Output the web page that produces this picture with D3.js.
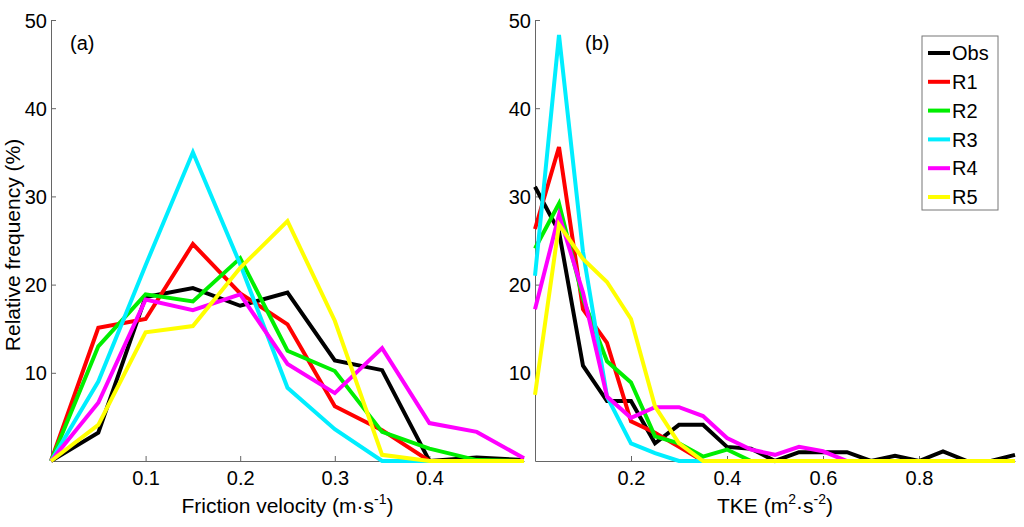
<!DOCTYPE html>
<html>
<head>
<meta charset="utf-8">
<script src="https://cdn.jsdelivr.net/npm/d3@7"></script>
<style>
  body { margin: 0; background: #fff; }
  text { font-family: "Liberation Sans", Arial, sans-serif; }
</style>
</head>
<body>
<script>
// Series names and colours
var seriesNames = ["Obs", "R1", "R2", "R3", "R4", "R5"];
var seriesColors = ["#000000", "#ff0000", "#00ee00", "#00eeff", "#ff00ff", "#ffff00"];

// Panel (a): friction velocity bins
var ustarX = [0, 0.05, 0.1, 0.15, 0.2, 0.25, 0.3, 0.35, 0.4, 0.45, 0.5];
var ustarObs = [0, 3.2, 18.6, 19.6, 17.6, 19.1, 11.4, 10.3, 0, 0.4, 0.1];
var ustarR1 = [0, 15.1, 16.1, 24.6, 19.0, 15.5, 6.2, 3.5, 0, 0, 0];
var ustarR2 = [0, 13.0, 18.9, 18.1, 23.0, 12.5, 10.2, 3.3, 1.4, 0.1, 0];
var ustarR3 = [0, 9.0, 22.2, 35.0, 22.3, 8.3, 3.6, 0, 0, 0, 0];
var ustarR4 = [0, 6.6, 18.3, 17.1, 18.9, 11.0, 7.7, 12.8, 4.3, 3.3, 0.3];
var ustarR5 = [0, 4.1, 14.6, 15.3, 21.9, 27.2, 15.9, 0.7, 0, 0, 0];

// Panel (b): TKE bins
var tkeX = [0, 0.05, 0.1, 0.15, 0.2, 0.25, 0.3, 0.35, 0.4, 0.45, 0.5,
            0.55, 0.6, 0.65, 0.7, 0.75, 0.8, 0.85, 0.9, 0.95, 1.0];
var tkeObs = [31.1, 26.0, 10.8, 6.8, 6.8, 2.0, 4.1, 4.1, 1.6, 1.4, 0,
              1.0, 1.0, 1.0, 0, 0.6, 0, 1.1, 0, 0, 0.7];
var tkeR1 = [26.3, 35.6, 17.2, 13.4, 4.5, 3.2, 1.6, 0, 0, 0, 0,
             0, 0, 0, 0, 0, 0, 0, 0, 0, 0];
var tkeR2 = [24.1, 29.2, 18.4, 11.3, 8.9, 2.8, 2.0, 0.5, 1.3, 0, 0,
             0, 0, 0, 0, 0, 0, 0, 0, 0, 0];
var tkeR3 = [21.0, 48.3, 23.7, 7.3, 2.0, 0.9, 0, 0, 0, 0, 0,
             0, 0, 0, 0, 0, 0, 0, 0, 0, 0];
var tkeR4 = [17.2, 27.9, 19.1, 7.3, 4.9, 6.1, 6.1, 5.1, 2.6, 1.3, 0.7,
             1.6, 1.1, 0, 0, 0, 0, 0, 0, 0, 0];
var tkeR5 = [7.5, 26.8, 22.9, 20.3, 16.1, 6.2, 2.0, 0, 0, 0, 0,
             0, 0, 0, 0, 0, 0, 0, 0, 0, 0];

// Tick values
var yTicks = [10, 20, 30, 40, 50];
var ustarTicks = [0.1, 0.2, 0.3, 0.4];
var tkeTicks = [0.2, 0.4, 0.6, 0.8];

var svgWidth = 1024;
var svgHeight = 527;

var svg = d3.select("body")
  .append("svg")
  .attr("width", svgWidth)
  .attr("height", svgHeight);

var plotTop = 20;
var plotBottom = 461;

var yScale = d3.scaleLinear()
  .domain([0, 50])
  .range([plotBottom, plotTop]);

function drawPanel(opts) {
  var xScale = d3.scaleLinear()
    .domain(opts.domain)
    .range(opts.range);

  var g = svg.append("g");

  // Axes with inward ticks, MATLAB style
  var leftAxis = d3.axisLeft(yScale)
    .tickValues(yTicks)
    .tickFormat(d3.format("d"))
    .tickSizeInner(-5)
    .tickSizeOuter(0)
    .tickPadding(4);

  var bottomAxis = d3.axisBottom(xScale)
    .tickValues(opts.ticks)
    .tickFormat(d3.format(".1f"))
    .tickSizeInner(-5)
    .tickSizeOuter(0)
    .tickPadding(9);

  var ya = g.append("g")
    .attr("transform", `translate(${opts.range[0]},0)`)
    .call(leftAxis);

  var xa = g.append("g")
    .attr("transform", `translate(0,${plotBottom})`)
    .call(bottomAxis);

  [ya, xa].forEach(function(a) {
    a.selectAll("path, line").attr("stroke", "#666").attr("stroke-width", 1);
    a.selectAll("text").attr("fill", "#000").style("font-size", "20px");
  });
  ya.selectAll("text").attr("dy", "0.35em");
  xa.selectAll("text").attr("dy", "0.75em");

  var line = d3.line()
    .x(function(d) { return xScale(d[0]); })
    .y(function(d) { return yScale(d[1]); });

  opts.series.forEach(function(vals, i) {
    var pts = opts.x.map(function(x, j) { return [x, vals[j]]; });
    g.append("path")
      .datum(pts)
      .attr("fill", "none")
      .attr("stroke", seriesColors[i])
      .attr("stroke-width", 4)
      .attr("stroke-linejoin", "miter")
      .attr("d", line);
  });

  // Panel tag
  g.append("text")
    .attr("x", opts.range[0] + opts.tagDx)
    .attr("y", 50)
    .style("font-size", "20px")
    .text(opts.tag);

  // x label
  var xl = g.append("text")
    .attr("x", (opts.range[0] + opts.range[1]) / 2 + opts.labelDx)
    .attr("y", 513)
    .attr("text-anchor", "middle")
    .style("font-size", "21px");
  opts.label(xl);

  return xScale;
}

drawPanel({
  domain: [0, 0.5],
  range: [51, 524],
  ticks: ustarTicks,
  x: ustarX,
  series: [ustarObs, ustarR1, ustarR2, ustarR3, ustarR4, ustarR5],
  tag: "(a)",
  tagDx: 19,
  labelDx: 0,
  label: function(t) {
    t.append("tspan").text("Friction velocity (m\u00b7s");
    t.append("tspan").attr("dy", -9).style("font-size", "14px").text("-1");
    t.append("tspan").attr("dy", 9).text(")");
  }
});

drawPanel({
  domain: [0, 1],
  range: [535, 1015],
  ticks: tkeTicks,
  x: tkeX,
  series: [tkeObs, tkeR1, tkeR2, tkeR3, tkeR4, tkeR5],
  tag: "(b)",
  tagDx: 50,
  labelDx: 0,
  label: function(t) {
    t.append("tspan").text("TKE (m");
    t.append("tspan").attr("dy", -9).style("font-size", "14px").text("2");
    t.append("tspan").attr("dy", 9).text("\u00b7s");
    t.append("tspan").attr("dy", -9).style("font-size", "14px").text("-2");
    t.append("tspan").attr("dy", 9).text(")");
  }
});

// y label
svg.append("text")
  .attr("transform", "translate(20,245) rotate(-90)")
  .attr("text-anchor", "middle")
  .style("font-size", "21px")
  .text("Relative frequency (%)");

// Legend
var legend = svg.append("g").attr("transform", "translate(922,36)");
legend.append("rect")
  .attr("width", 76)
  .attr("height", 174)
  .attr("fill", "#fff")
  .attr("stroke", "#777")
  .attr("stroke-width", 1);

var entries = legend.selectAll(".entry")
  .data(seriesNames)
  .enter()
  .append("g")
  .attr("class", "entry")
  .attr("transform", function(d, i) { return `translate(0,${17 + i * 28.8})`; });

entries.append("line")
  .attr("x1", 6)
  .attr("x2", 28)
  .attr("stroke", function(d, i) { return seriesColors[i]; })
  .attr("stroke-width", 4);

entries.append("text")
  .attr("x", 30)
  .attr("dy", "0.36em")
  .style("font-size", "20px")
  .text(function(d) { return d; });
</script>
</body>
</html>
